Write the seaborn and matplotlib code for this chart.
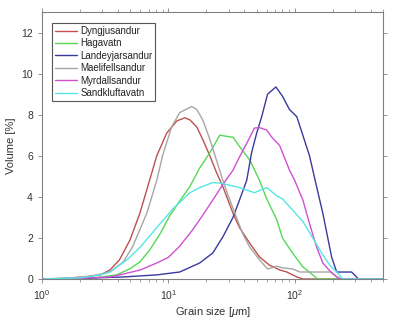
import numpy as np
import pandas as pd
import matplotlib
matplotlib.use("Agg")
import matplotlib.pyplot as plt
import seaborn as sns
from matplotlib.ticker import LogLocator, NullFormatter

names = ["Dyngjusandur", "Hagavatn", "Landeyjarsandur", "Maelifellsandur",
         "Myrdallsandur", "Sandkluftavatn"]

dyng_x = [1, 1.5, 2.1, 2.9, 3.45, 4.1, 4.97, 5.95, 7.1, 8.1, 9.7, 11.7, 13.5, 14.8,
          16.8, 18.7, 21.3, 24, 27, 29, 32.5, 36.6, 44, 52.7, 63, 76, 86, 104, 116, 500]
dyng_y = [0, 0.02, 0.1, 0.2, 0.44, 0.93, 1.9, 3.2, 4.8, 6.0, 7.1, 7.7, 7.85, 7.75,
          7.4, 6.8, 6.0, 5.2, 4.5, 4.0, 3.2, 2.5, 1.75, 1.07, 0.68, 0.44, 0.35, 0.1, 0, 0]

haga_x = [1, 2.5, 3.0, 3.9, 4.97, 5.95, 7.1, 8.6, 10.3, 12.3, 14.8, 17.7, 21.3, 25.5,
          32.5, 36.6, 44, 52.7, 60, 72, 80, 96, 116, 139, 152, 500]
haga_y = [0, 0.05, 0.1, 0.2, 0.5, 0.83, 1.4, 2.2, 3.1, 3.8, 4.5, 5.4, 6.15, 7.0,
          6.9, 6.45, 5.8, 4.8, 3.9, 2.9, 2.0, 1.27, 0.59, 0.2, 0, 0]

land_x = [1, 2, 4.4, 8.1, 12.3, 17.7, 22.5, 27, 32.5, 36.6, 41.7, 45.6, 50, 54.8,
          61, 71, 80, 91, 104, 116, 131, 149, 167, 196, 215, 282, 320, 500]
land_y = [0, 0.03, 0.1, 0.2, 0.34, 0.78, 1.27, 2.05, 3.0, 3.85, 4.8, 6.15, 7.1, 7.9,
          9.0, 9.35, 8.9, 8.25, 7.9, 7.0, 6.0, 4.5, 3.2, 1.07, 0.34, 0.34, 0, 0]

mael_x = [1, 2.3, 3.45, 4.4, 5.2, 6.75, 8.1, 9.0, 10.6, 12.3, 15.3, 16.8, 18.7, 21.3,
          24, 27, 30, 34.6, 38.8, 44, 52.7, 61, 66, 72, 80, 96, 110, 195, 215, 235, 500]
mael_y = [0, 0.1, 0.34, 0.83, 1.56, 3.2, 4.8, 6.0, 7.4, 8.1, 8.4, 8.25, 7.75, 6.8,
          5.8, 4.8, 4.0, 3.0, 2.2, 1.56, 0.93, 0.49, 0.54, 0.63, 0.54, 0.49, 0.34, 0.34,
          0.1, 0, 0]

myrd_x = [1, 2, 3.5, 4.4, 6, 8.1, 10, 12.3, 15.6, 18.7, 22.5, 27, 32.5, 36.6, 41.7,
          48, 52.7, 60, 66, 76, 91, 100, 116, 131, 149, 167, 196, 227, 500]
myrd_y = [0, 0.03, 0.1, 0.24, 0.44, 0.78, 1.05, 1.6, 2.4, 3.1, 3.85, 4.6, 5.3, 5.95,
          6.6, 7.35, 7.37, 7.25, 6.9, 6.5, 5.3, 4.8, 3.85, 2.7, 1.56, 0.78, 0.3, 0, 0]

sand_x = [1, 2, 2.9, 3.45, 4.7, 6, 8.1, 10.8, 14.8, 17.7, 22.5, 27, 29, 36.6, 48, 60,
          63, 72, 80, 96, 116, 139, 163, 189, 215, 240, 500]
sand_y = [0, 0.05, 0.2, 0.34, 0.93, 1.56, 2.5, 3.4, 4.2, 4.45, 4.7, 4.65, 4.6, 4.45,
          4.2, 4.45, 4.35, 4.05, 3.9, 3.37, 2.8, 2.0, 1.27, 0.68, 0.34, 0, 0]

colors = ["#c0504d", "#55d955", "#3a3a9e", "#a6a6a6", "#d050d0", "#55e6e6"]

xs = [dyng_x, haga_x, land_x, mael_x, myrd_x, sand_x]
ys = [dyng_y, haga_y, land_y, mael_y, myrd_y, sand_y]
frames = [pd.DataFrame({"size": x, "vol": y, "sample": n}) for n, x, y in zip(names, xs, ys)]
df = pd.concat(frames, ignore_index=True)

sns.set_style("white")
plt.rcParams["font.family"] = ["Liberation Sans", "DejaVu Sans"]
plt.rcParams["mathtext.fontset"] = "custom"
plt.rcParams["mathtext.rm"] = "Liberation Sans"
plt.rcParams["mathtext.it"] = "Liberation Sans:italic"

fig = plt.figure(figsize=(3.93, 3.24), dpi=100)
ax = fig.add_axes([42 / 393, 1 - 279 / 324, 341 / 393, 267 / 324])

sns.lineplot(data=df, x="size", y="vol", hue="sample", hue_order=names,
             palette=dict(zip(names, colors)), sort=False, estimator=None,
             linewidth=1.0, ax=ax)

ax.set_xscale("log")
ax.set_xlim(1, 500)
ax.set_ylim(0, 13)
ax.set_yticks([0, 2, 4, 6, 8, 10, 12])
ax.xaxis.set_major_locator(LogLocator(base=10, numticks=10))
ax.xaxis.set_minor_locator(LogLocator(base=10, subs=np.arange(2, 10), numticks=20))
ax.xaxis.set_minor_formatter(NullFormatter())

spine_c = "#808080"
text_c = "#333333"
for s in ax.spines.values():
    s.set_visible(True)
    s.set_color(spine_c)
    s.set_linewidth(0.8)
ax.tick_params(which="both", direction="out", colors=spine_c, labelcolor=text_c,
               labelsize=7.5, top=True, right=True, bottom=True, left=True,
               labeltop=False, labelright=False)
ax.tick_params(which="major", length=3, width=0.6)
ax.tick_params(which="minor", length=2, width=0.5)

ax.set_xlabel("Grain size [$\\mu$m]", fontsize=8, color=text_c, labelpad=2)
ax.set_ylabel("Volume [%]", fontsize=8, color=text_c, labelpad=4)

leg = ax.legend(loc="upper left", bbox_to_anchor=(10 / 341, 1 - 11 / 267),
                borderaxespad=0, fontsize=7, frameon=True, fancybox=False,
                handlelength=2.3, handletextpad=0.3, labelspacing=0.25,
                borderpad=0.3, framealpha=1)
leg.get_frame().set_edgecolor("#555555")
leg.get_frame().set_linewidth(0.8)
for t in leg.get_texts():
    t.set_color("#222222")

fig.savefig("out.png", dpi=100)
